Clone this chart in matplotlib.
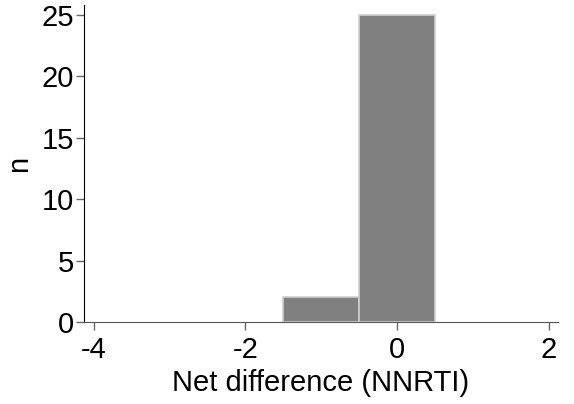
import matplotlib.pyplot as plt

plt.rcParams['font.family'] = ['Liberation Sans', 'DejaVu Sans']

bin_edges = [-1.5, -0.5, 0.5]
counts = [2, 25]
x_ticks = [-4, -2, 0, 2]
y_ticks = [0, 5, 10, 15, 20, 25]

fig = plt.figure(figsize=(5.74, 4.04), dpi=100)
ax = fig.add_axes([0.1463, 0.203, 0.8257, 0.7846])

widths = [bin_edges[i + 1] - bin_edges[i] for i in range(len(counts))]
ax.bar(bin_edges[:-1], counts, width=widths, align='edge',
       color='#808080', edgecolor='#d0d0d0', linewidth=1.2)

ax.set_xlim(-4.13, 2.12)
ax.set_ylim(0, 25.8)
ax.set_xticks(x_ticks)
ax.set_yticks(y_ticks)
ax.set_xticklabels([str(t) for t in x_ticks])
ax.set_xlabel("Net difference (NNRTI)", fontsize=21, labelpad=4)
ax.set_ylabel("n", fontsize=21, labelpad=6)
ax.tick_params(labelsize=21, length=6, color='#666666', width=1, pad=1)
ax.tick_params(axis='x', pad=4)

ax.spines['top'].set_visible(False)
ax.spines['right'].set_visible(False)
ax.spines['left'].set_color('black')
ax.spines['bottom'].set_color('#555555')

fig.savefig("out.png", dpi=100)
